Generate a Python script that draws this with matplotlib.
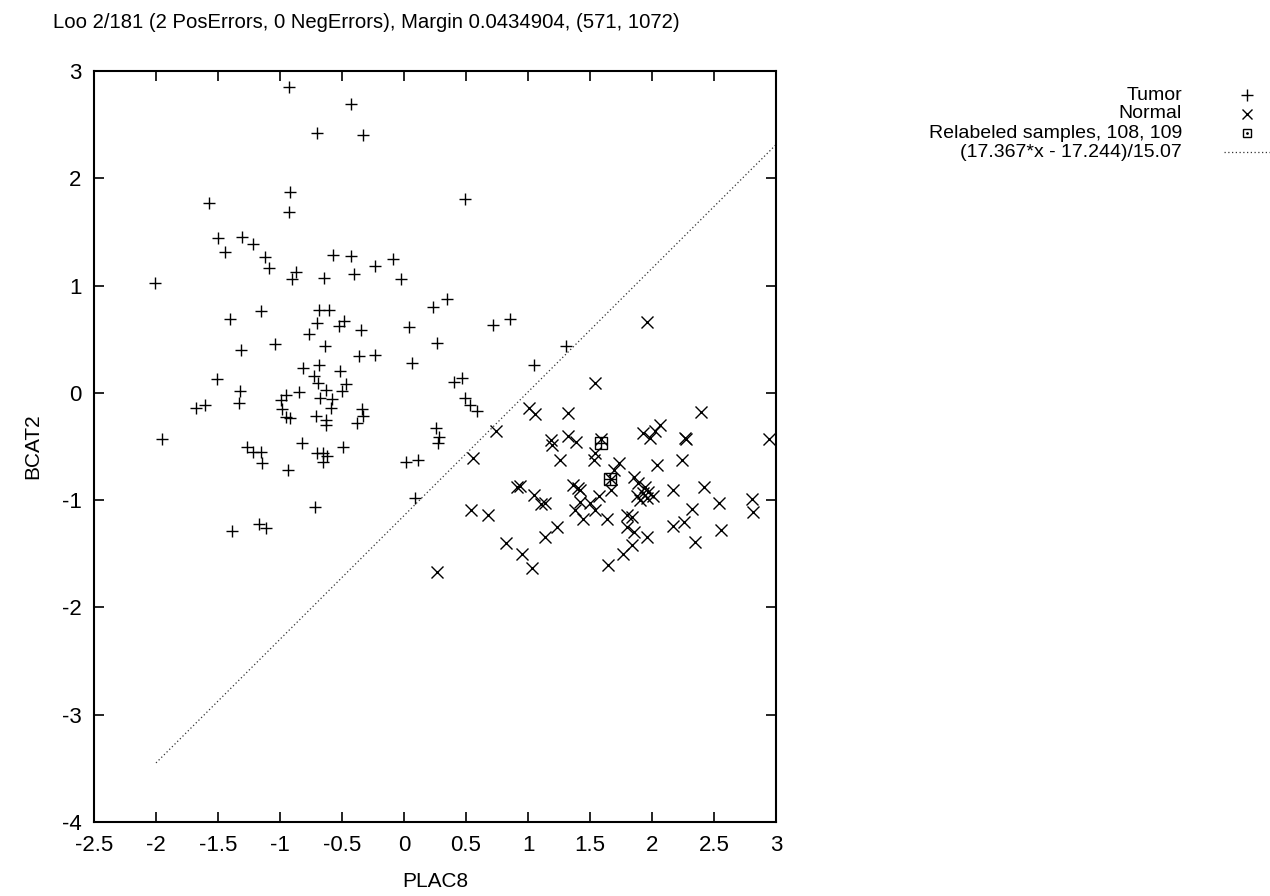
import matplotlib
matplotlib.use("Agg")
import matplotlib.pyplot as plt
from matplotlib.lines import Line2D
import numpy as np

plt.rcParams['font.family'] = ['Liberation Sans', 'DejaVu Sans']

# PLAC8 / BCAT2 expression values
tumor_x = [-0.93, -0.43, -0.70, -0.33, -0.92, -0.93, -1.57, 0.49,
           -1.50, -1.31, -1.215, -1.446, -1.118, -1.086, -0.87, -0.90, -0.643, -0.57,
           -0.425, -0.40, -0.234, -0.09, -0.024, -2.01,
           0.237, 0.344, 0.038, 0.263, 0.715, 0.855, 1.306, 1.05,
           -1.15, -0.685, -0.607, -1.40, -1.315, -1.04, -0.70, -0.764, -0.524, -0.486,
           -0.344, -0.634, -0.36, -0.23, 0.067,
           -1.51, -1.32, -1.33, -1.68, -1.607, -1.95,
           -0.817, -0.683, -0.516, -0.723, -0.69, -0.468, -0.503, -0.629, -0.847, -0.952,
           -0.995, -0.583, -0.677, -0.589, -0.986, -0.341, -0.333, -0.38, -0.952, -0.92,
           -0.712, -0.632, -0.632,
           -0.825, -0.494, -0.704, -0.656, -0.62, -0.656, -0.938,
           0.016, 0.115, 0.086,
           -1.269, -1.215, -1.153, -1.148, -0.715, -1.385, -1.169, -1.113,
           0.403, 0.465, 0.49, 0.53, 0.59, 0.255, 0.285, 0.277]
tumor_y = [2.855, 2.69, 2.42, 2.40, 1.876, 1.69, 1.77, 1.81,
           1.44, 1.45, 1.39, 1.31, 1.267, 1.16, 1.13, 1.06, 1.07, 1.286,
           1.28, 1.11, 1.186, 1.25, 1.065, 1.028,
           0.80, 0.873, 0.618, 0.463, 0.63, 0.687, 0.438, 0.26,
           0.767, 0.773, 0.773, 0.69, 0.404, 0.454, 0.65, 0.547, 0.62, 0.67,
           0.59, 0.44, 0.348, 0.354, 0.277,
           0.127, 0.016, -0.096, -0.137, -0.115, -0.426,
           0.236, 0.255, 0.20, 0.155, 0.096, 0.084, 0.016, 0.028, 0.012, -0.019,
           -0.065, -0.059, -0.05, -0.143, -0.152, -0.152, -0.22, -0.283, -0.227, -0.236,
           -0.214, -0.25, -0.30,
           -0.469, -0.50, -0.562, -0.562, -0.587, -0.64, -0.718,
           -0.64, -0.63, -0.976,
           -0.50, -0.547, -0.547, -0.65, -1.065, -1.286, -1.22, -1.26,
           0.105, 0.14, -0.05, -0.11, -0.17, -0.33, -0.41, -0.47]

normal_x = [1.957, 1.54, 1.008, 1.056, 1.32, 2.393, 0.742,
            1.185, 1.19, 1.325, 1.387, 1.258,
            1.589, 1.54, 1.535, 1.736, 1.694, 1.667, 1.667, 2.043,
            1.93, 1.984, 2.024, 2.065, 2.266, 2.275, 2.245, 2.94,
            1.857, 1.89, 1.944, 1.93, 1.97, 2.01, 1.957, 1.876, 1.903,
            2.172, 2.42, 2.544, 2.81, 2.817,
            0.554, 0.909, 0.935, 1.048, 1.105, 0.538, 0.675,
            1.137, 1.365, 1.406, 1.42, 1.575, 1.42, 1.50, 1.379, 1.446, 1.54, 1.635,
            1.796, 1.836, 1.80, 1.855, 1.962, 1.836, 1.764, 1.643,
            1.231, 1.137, 2.172, 2.32, 2.26, 2.557, 2.347,
            0.823, 0.949, 1.032, 0.269]
normal_y = [0.659, 0.09, -0.143, -0.196, -0.19, -0.177, -0.354,
            -0.44, -0.485, -0.40, -0.455, -0.624,
            -0.43, -0.56, -0.624, -0.656, -0.718, -0.80, -0.904, -0.671,
            -0.376, -0.422, -0.36, -0.30, -0.42, -0.43, -0.624, -0.43,
            -0.78, -0.842, -0.873, -0.935, -0.92, -0.966, -0.98, -0.966, -0.997,
            -0.904, -0.873, -1.03, -0.99, -1.106,
            -0.61, -0.873, -0.867, -0.95, -1.035, -1.09, -1.137,
            -1.03, -0.857, -0.888, -0.904, -0.966, -1.013, -1.028, -1.09, -1.18, -1.09, -1.177,
            -1.137, -1.153, -1.246, -1.293, -1.34, -1.417, -1.503, -1.603,
            -1.246, -1.34, -1.24, -1.08, -1.2, -1.277, -1.39,
            -1.395, -1.503, -1.634, -1.67]

# samples 108 and 109
relabeled_x = [1.589, 1.661]
relabeled_y = [-0.463, -0.80]

# separating line (17.367*x - 17.244)/15.07
w1, b, w2 = 17.367, 17.244, 15.07
line_x = np.linspace(-2, 3, 200)
line_y = (w1 * line_x - b) / w2

fig = plt.figure(figsize=(12.7, 8.96), dpi=100)
ax = fig.add_axes([94/1270, 1 - 822/896, (776-94)/1270, (822-71)/896])

ax.plot(tumor_x, tumor_y, linestyle='none', marker='+', ms=9, mew=1.0, color='black')
ax.plot(normal_x, normal_y, linestyle='none', marker='x', ms=8, mew=1.0, color='black')
ax.plot(relabeled_x, relabeled_y, linestyle='none', marker='s', ms=9, mew=1.0,
        mfc='none', mec='black')
ax.plot(relabeled_x, relabeled_y, linestyle='none', marker='+', ms=9, mew=1.0, color='black')
ax.plot(line_x, line_y, linestyle=(0, (1, 2)), lw=0.9, color='#333333')

ax.set_xlim(-2.5, 3)
ax.set_ylim(-4, 3)
ax.set_xticks(np.arange(-2.5, 3.01, 0.5))
ax.set_xticklabels(['-2.5', '-2', '-1.5', '-1', '-0.5', '0', '0.5', '1', '1.5', '2', '2.5', '3'])
ax.set_yticks(range(-4, 4))
ax.set_yticklabels([str(v) for v in range(-4, 4)])
ax.tick_params(direction='in', length=7, width=1.2, top=True, right=True,
               labelsize=16, pad=9)
for s in ax.spines.values():
    s.set_linewidth(1.5)

ax.set_xlabel('PLAC8', fontsize=15, labelpad=12)
ax.set_ylabel('BCAT2', fontsize=15, labelpad=14)
fig.text(53/1270, 1 - 22/896, 'Loo 2/181 (2 PosErrors, 0 NegErrors), Margin 0.0434904, (571, 1072)',
         fontsize=14.6, ha='left', va='center')

# key on the right, gnuplot style
key_rows = [('Tumor', dict(marker='+', ms=8, mew=1.0, linestyle='none', color='black')),
            ('Normal', dict(marker='x', ms=7, mew=1.0, linestyle='none', color='black')),
            ('Relabeled samples, 108, 109', dict(marker='s', ms=6, mew=1.0, linestyle='none',
                                                 mfc='none', mec='black')),
            ('(17.367*x - 17.244)/15.07', dict(linestyle=(0, (1, 2)), lw=0.9, color='#333333'))]
for i, (label, style) in enumerate(key_rows):
    yy = 1 - (95 + 19 * i) / 896
    fig.text(1182/1270, yy, label, fontsize=14, ha='right', va='center')
    if 'marker' in style:
        fig.add_artist(Line2D([1247/1270], [yy], transform=fig.transFigure, **style))
        if style['marker'] == 's':
            fig.add_artist(Line2D([1247/1270], [yy], transform=fig.transFigure,
                                  marker='.', ms=2, color='black', linestyle='none'))
    else:
        fig.add_artist(Line2D([1224/1270, 1270/1270], [yy, yy], transform=fig.transFigure, **style))

fig.savefig('out.png', dpi=100)
